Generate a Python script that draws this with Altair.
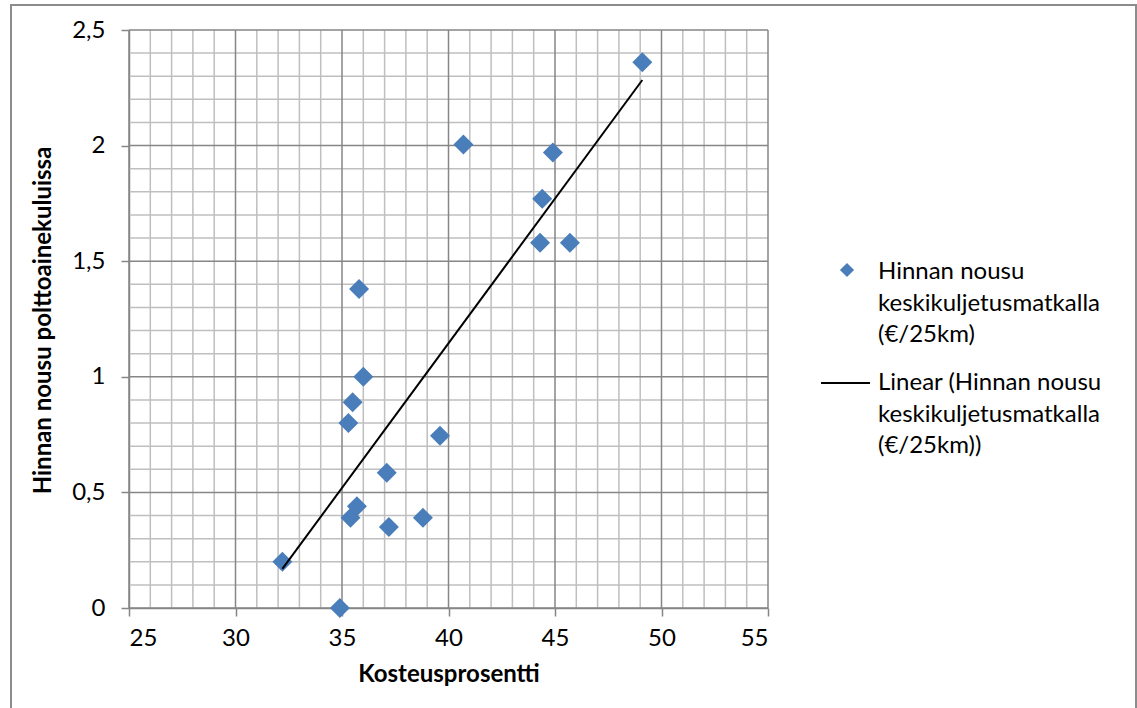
import altair as alt
import pandas as pd

# Data
kosteus = [32.2, 34.9, 35.4, 35.7, 37.2, 38.8, 37.1, 39.6, 35.3, 35.5, 36.0, 35.8,
           40.7, 44.9, 44.4, 44.3, 45.7, 49.1]
hinta = [0.20, 0.00, 0.39, 0.44, 0.35, 0.39, 0.585, 0.745, 0.80, 0.89, 1.00, 1.38,
         2.005, 1.97, 1.77, 1.58, 1.58, 2.36]

x_major = [25, 30, 35, 40, 45, 50, 55]
y_major = [0, 0.5, 1, 1.5, 2, 2.5]
x_minor = list(range(25, 56))
y_minor = [round(i * 0.1, 1) for i in range(0, 26)]

legend_lines_1 = ["Hinnan nousu", "keskikuljetusmatkalla", "(€/25km)"]
legend_lines_2 = ["Linear (Hinnan nousu", "keskikuljetusmatkalla", "(€/25km))"]

W, H = 639, 578
FONT = "Lato"
FS = 24
MAJOR = "#868686"
MINOR = "#BFBFBF"
BLUE = "#4A7EBB"

df = pd.DataFrame({"x": kosteus, "y": hinta})

xs = alt.Scale(domain=[25, 55], nice=False, zero=False)
ys = alt.Scale(domain=[0, 2.5], nice=False, zero=False)

x_axis = alt.Axis(
    values=x_major, grid=False, tickSize=8, tickColor=MAJOR, tickWidth=1.5,
    domainColor=MAJOR, domainWidth=1.5, labelFont=FONT, labelFontSize=FS,
    labelColor="black", labelPadding=10, title="Kosteusprosentti",
    titleFont=FONT, titleFontSize=FS, titleFontWeight="bold", titleColor="black",
    titlePadding=12)
y_axis = alt.Axis(
    values=y_major, grid=False, tickSize=8, tickColor=MAJOR, tickWidth=1.5,
    domainColor=MAJOR, domainWidth=1.5, labelFont=FONT, labelFontSize=FS,
    labelColor="black", labelPadding=16,
    labelExpr="replace(toString(datum.value), '.', ',')",
    title="Hinnan nousu polttoainekuluissa", titleFont=FONT, titleFontSize=FS,
    titleFontWeight="bold", titleColor="black", titleX=-74, titleY=290)


def grid(values, channel, color):
    d = pd.DataFrame({"v": values})
    if channel == "x":
        enc = {"x": alt.X("v:Q", scale=xs, axis=x_axis)}
    else:
        enc = {"y": alt.Y("v:Q", scale=ys, axis=y_axis)}
    return alt.Chart(d).mark_rule(color=color, strokeWidth=1.5).encode(**enc)


minor_x = grid([v for v in x_minor if v not in x_major], "x", MINOR)
minor_y = grid([v for v in y_minor if v not in y_major], "y", MINOR)
major_x = grid(x_major, "x", MAJOR)
major_y = grid(y_major, "y", MAJOR)

points = alt.Chart(df).mark_point(
    shape="diamond", size=400, filled=True, color=BLUE, opacity=1
).encode(
    x=alt.X("x:Q", scale=xs, axis=x_axis),
    y=alt.Y("y:Q", scale=ys, axis=y_axis),
)

trend = alt.Chart(df).transform_regression("x", "y").mark_line(
    color="black", strokeWidth=2
).encode(x=alt.X("x:Q", scale=xs, axis=x_axis), y=alt.Y("y:Q", scale=ys, axis=y_axis))

# Legend (manual, placed to the right of the plot)
one = pd.DataFrame({"a": [0]})
leg_sym = alt.Chart(one).mark_point(shape="diamond", size=200, filled=True,
                                    color=BLUE, opacity=1).encode(
    x=alt.value(718), y=alt.value(240))
leg_line = alt.Chart(one).mark_rule(color="black", strokeWidth=2).encode(
    x=alt.value(692), x2=alt.value(741), y=alt.value(353))

leg_texts = []
for lines, y0 in [(legend_lines_1, 242), (legend_lines_2, 353)]:
    for i, t in enumerate(lines):
        leg_texts.append(
            alt.Chart(pd.DataFrame({"t": [t]})).mark_text(
                align="left", baseline="middle", font=FONT, fontSize=FS, color="black"
            ).encode(text="t:N", x=alt.value(749), y=alt.value(y0 + i * 31.7))
        )

border = alt.Chart(one).mark_rect(filled=False, stroke="#8C8C8C", strokeWidth=2).encode(
    x=alt.value(-118), x2=alt.value(1007), y=alt.value(-25), y2=alt.value(700))

chart = alt.layer(
    border, minor_x, minor_y, major_x, major_y, points, trend,
    leg_sym, leg_line, *leg_texts
).properties(
    width=W, height=H,
    autosize=alt.AutoSizeParams(type="none"),
    padding={"left": 129, "top": 30, "right": 1137 - 129 - W, "bottom": 708 - 30 - H},
    background="white",
).configure_view(stroke=None)

chart.save("out.html", embed_options={"renderer": "svg", "actions": False})
